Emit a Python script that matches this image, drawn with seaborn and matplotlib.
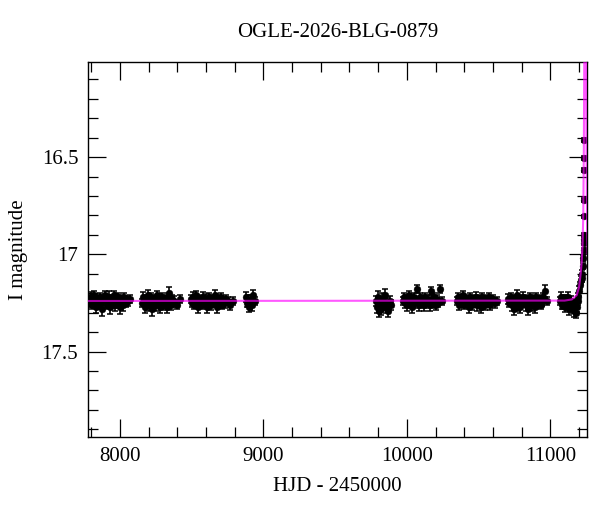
import numpy as np
import pandas as pd
import matplotlib
matplotlib.use("Agg")
import matplotlib.pyplot as plt
from matplotlib.ticker import MultipleLocator
import seaborn as sns

# ---------------- data ----------------
s1_t = [7781,7788,7795,7803,7810,7818,7825,7833,7840,7848,7855,7863,7870,7878,7885,7893,7900,7908,7915,7923,7930,7938,7945,7953,7960,7968,7975,7983,7990,7998,8005,8013,8020,8030,8042,8055,8070]
s1_m = [17.23,17.25,17.22,17.26,17.24,17.21,17.25,17.27,17.23,17.24,17.26,17.22,17.25,17.28,17.23,17.21,17.24,17.26,17.25,17.22,17.27,17.24,17.23,17.25,17.21,17.26,17.24,17.22,17.25,17.27,17.23,17.24,17.26,17.22,17.25,17.24,17.23]
s1_e = [0.02,0.02,0.025,0.02,0.03,0.02,0.02,0.03,0.02,0.025,0.02,0.02,0.03,0.035,0.02,0.02,0.025,0.02,0.02,0.03,0.035,0.02,0.02,0.025,0.02,0.03,0.02,0.02,0.025,0.035,0.02,0.02,0.03,0.02,0.02,0.025,0.02]

s2_t = [8152,8159,8166,8173,8180,8187,8194,8201,8208,8215,8222,8229,8236,8243,8250,8257,8264,8271,8278,8285,8292,8299,8306,8313,8320,8327,8334,8341,8348,8355,8362,8370,8380,8395,8416]
s2_m = [17.25,17.22,17.24,17.27,17.23,17.25,17.21,17.26,17.24,17.22,17.28,17.25,17.23,17.24,17.26,17.21,17.25,17.23,17.27,17.24,17.22,17.26,17.24,17.23,17.25,17.27,17.22,17.20,17.24,17.26,17.23,17.25,17.24,17.26,17.23]
s2_e = [0.02,0.025,0.02,0.03,0.02,0.02,0.025,0.03,0.02,0.02,0.035,0.02,0.02,0.025,0.03,0.02,0.02,0.025,0.03,0.02,0.02,0.025,0.02,0.02,0.025,0.03,0.02,0.03,0.02,0.025,0.02,0.02,0.025,0.02,0.02]

s3_t = [8495,8502,8510,8517,8525,8532,8540,8547,8555,8562,8570,8577,8585,8592,8600,8607,8615,8622,8630,8637,8645,8652,8660,8667,8675,8682,8690,8697,8705,8712,8720,8730,8742,8755,8770,8790]
s3_m = [17.23,17.25,17.22,17.26,17.24,17.21,17.25,17.27,17.23,17.24,17.26,17.22,17.25,17.24,17.23,17.27,17.24,17.22,17.25,17.26,17.23,17.24,17.21,17.25,17.27,17.24,17.23,17.25,17.22,17.26,17.24,17.25,17.23,17.24,17.26,17.24]
s3_e = [0.02,0.02,0.025,0.02,0.02,0.02,0.025,0.03,0.02,0.02,0.02,0.025,0.02,0.02,0.025,0.03,0.02,0.02,0.02,0.025,0.02,0.02,0.025,0.02,0.03,0.02,0.02,0.025,0.02,0.02,0.02,0.025,0.02,0.02,0.025,0.02]

s4_t = [8876,8884,8893,8901,8910,8919,8928,8938]
s4_m = [17.22,17.25,17.24,17.27,17.23,17.26,17.21,17.24]
s4_e = [0.025,0.02,0.03,0.025,0.02,0.03,0.025,0.02]

s5_t = [9782,9790,9798,9806,9814,9822,9830,9838,9846,9854,9862,9870,9880,9892]
s5_m = [17.24,17.27,17.22,17.29,17.25,17.28,17.23,17.26,17.21,17.27,17.25,17.29,17.24,17.26]
s5_e = [0.025,0.03,0.03,0.03,0.025,0.03,0.03,0.025,0.03,0.03,0.025,0.03,0.025,0.025]

s6_t = [9970,9977,9985,9992,10000,10007,10015,10022,10030,10037,10045,10052,10060,10068,10075,10083,10090,10098,10105,10113,10120,10128,10135,10143,10150,10158,10167,10175,10182,10190,10197,10205,10212,10220,10229,10245]
s6_m = [17.24,17.22,17.25,17.23,17.26,17.24,17.21,17.25,17.23,17.27,17.24,17.22,17.25,17.18,17.24,17.26,17.22,17.25,17.23,17.24,17.26,17.22,17.25,17.23,17.24,17.26,17.19,17.23,17.25,17.22,17.24,17.26,17.23,17.25,17.18,17.24]
s6_e = [0.02,0.02,0.025,0.02,0.03,0.02,0.02,0.025,0.02,0.03,0.02,0.02,0.025,0.02,0.02,0.03,0.02,0.025,0.02,0.02,0.03,0.02,0.025,0.02,0.02,0.03,0.02,0.02,0.025,0.02,0.02,0.025,0.02,0.02,0.02,0.02]

s7_t = [10347,10355,10362,10370,10377,10385,10392,10400,10407,10415,10422,10430,10437,10445,10452,10460,10467,10475,10482,10490,10497,10505,10512,10520,10527,10535,10542,10550,10557,10565,10572,10580,10590,10602,10615,10628]
s7_m = [17.24,17.22,17.26,17.23,17.25,17.24,17.21,17.26,17.24,17.23,17.25,17.27,17.22,17.24,17.26,17.23,17.25,17.24,17.22,17.26,17.24,17.23,17.25,17.27,17.22,17.24,17.26,17.23,17.25,17.24,17.22,17.26,17.24,17.23,17.25,17.24]
s7_e = [0.02,0.02,0.025,0.02,0.02,0.03,0.02,0.02,0.025,0.02,0.02,0.03,0.02,0.02,0.025,0.02,0.02,0.02,0.025,0.03,0.02,0.02,0.02,0.03,0.02,0.02,0.025,0.02,0.02,0.02,0.02,0.025,0.02,0.02,0.025,0.02]

s8_t = [10708,10715,10723,10730,10738,10745,10753,10760,10768,10775,10783,10790,10798,10805,10813,10820,10828,10835,10843,10850,10858,10865,10873,10880,10888,10895,10903,10910,10918,10925,10933,10940,10950,10960,10975]
s8_m = [17.23,17.25,17.22,17.26,17.24,17.28,17.23,17.25,17.21,17.26,17.24,17.27,17.23,17.25,17.22,17.24,17.26,17.23,17.28,17.25,17.22,17.24,17.26,17.23,17.25,17.27,17.22,17.24,17.25,17.23,17.26,17.24,17.22,17.19,17.24]
s8_e = [0.025,0.02,0.02,0.03,0.02,0.03,0.02,0.02,0.025,0.03,0.02,0.03,0.02,0.02,0.025,0.02,0.03,0.02,0.03,0.02,0.02,0.025,0.03,0.02,0.02,0.03,0.02,0.02,0.025,0.02,0.02,0.025,0.02,0.03,0.02]

s9_t = [11065,11072,11080,11087,11095,11102,11110,11117,11125,11132,11140,11147,11155,11162,11170,11177,11183,11190,11196,11202,11207,11212]
s9_m = [17.24,17.22,17.26,17.25,17.23,17.27,17.24,17.26,17.22,17.28,17.25,17.24,17.27,17.29,17.25,17.30,17.27,17.24,17.22,17.19,17.16,17.13]
s9_e = [0.02,0.025,0.02,0.03,0.02,0.025,0.03,0.02,0.025,0.03,0.02,0.025,0.03,0.03,0.02,0.03,0.025,0.02,0.02,0.025,0.02,0.02]

rise_t = [11218,11222,11226,11229,11232,11232.5,11233,11233.5,11234,11234.5,11235.5,11236,11236.5]
rise_m = [17.12,17.10,17.06,17.02,16.98,16.94,16.92,16.90,16.805,16.72,16.565,16.505,16.41]
rise_e = [0.02,0.02,0.015,0.015,0.012,0.012,0.012,0.012,0.01,0.01,0.01,0.01,0.01]

model_t = [7777,11100,11150,11184,11200,11207,11213,11219,11225,11230,11234,11237,11240,11243,11246,11249,11253,11256,11260]
model_m = [17.24,17.238,17.232,17.21,17.17,17.13,17.09,17.04,16.95,16.80,16.45,16.01,15.75,15.65,15.75,16.01,16.5,16.82,17.0]

title_text = "OGLE-2026-BLG-0879"
xlabel_text = "HJD - 2450000"
ylabel_text = "I magnitude"

# ---------------- assemble ----------------
hjd = s1_t + s2_t + s3_t + s4_t + s5_t + s6_t + s7_t + s8_t + s9_t + rise_t
mag = s1_m + s2_m + s3_m + s4_m + s5_m + s6_m + s7_m + s8_m + s9_m + rise_m
err = s1_e + s2_e + s3_e + s4_e + s5_e + s6_e + s7_e + s8_e + s9_e + rise_e
obs = pd.DataFrame({"hjd": hjd, "mag": mag, "err": err})
model = pd.DataFrame({"hjd": model_t, "mag": model_m})

sns.set_theme(style="ticks")
plt.rcParams["font.family"] = ["Liberation Serif", "DejaVu Serif"]
plt.rcParams["text.color"] = "black"
plt.rcParams["axes.labelcolor"] = "black"
plt.rcParams["xtick.color"] = "black"
plt.rcParams["ytick.color"] = "black"

fig = plt.figure(figsize=(6.0, 5.12), dpi=100)
ax = fig.add_axes([88/600, 1-437/512, (587-88)/600, (437-62)/512])

ax.errorbar(obs["hjd"], obs["mag"], yerr=obs["err"], fmt="none",
            ecolor="black", elinewidth=1.2, capsize=2.5, capthick=1.1, zorder=2)
sns.scatterplot(data=obs, x="hjd", y="mag", ax=ax, color="black", s=24,
                edgecolor="black", linewidth=0.3, zorder=3, legend=False)
sns.lineplot(data=model, x="hjd", y="mag", ax=ax, color="#ff00ff", alpha=0.65,
             linewidth=1.5, zorder=4, sort=False, estimator=None)

ax.set_xlim(7777, 11256)
ax.set_ylim(17.94, 16.01)

ax.xaxis.set_major_locator(MultipleLocator(1000))
ax.xaxis.set_minor_locator(MultipleLocator(200))
ax.yaxis.set_major_locator(MultipleLocator(0.5))
ax.yaxis.set_minor_locator(MultipleLocator(0.1))
ax.yaxis.set_major_formatter(plt.FuncFormatter(lambda v, p: f"{v:g}"))

ax.tick_params(which="both", direction="in", top=True, right=True,
               bottom=True, left=True, width=0.9, colors="black")
ax.tick_params(which="major", length=13, labelsize=15, pad=7)
ax.tick_params(which="minor", length=7)
for sp in ax.spines.values():
    sp.set_color("black")
    sp.set_linewidth(1.0)

ax.set_xlabel(xlabel_text, fontsize=15, labelpad=8)
ax.set_ylabel(ylabel_text, fontsize=15, labelpad=10)
ax.set_title(title_text, fontsize=15, pad=18)

fig.savefig("out.png", dpi=100)
